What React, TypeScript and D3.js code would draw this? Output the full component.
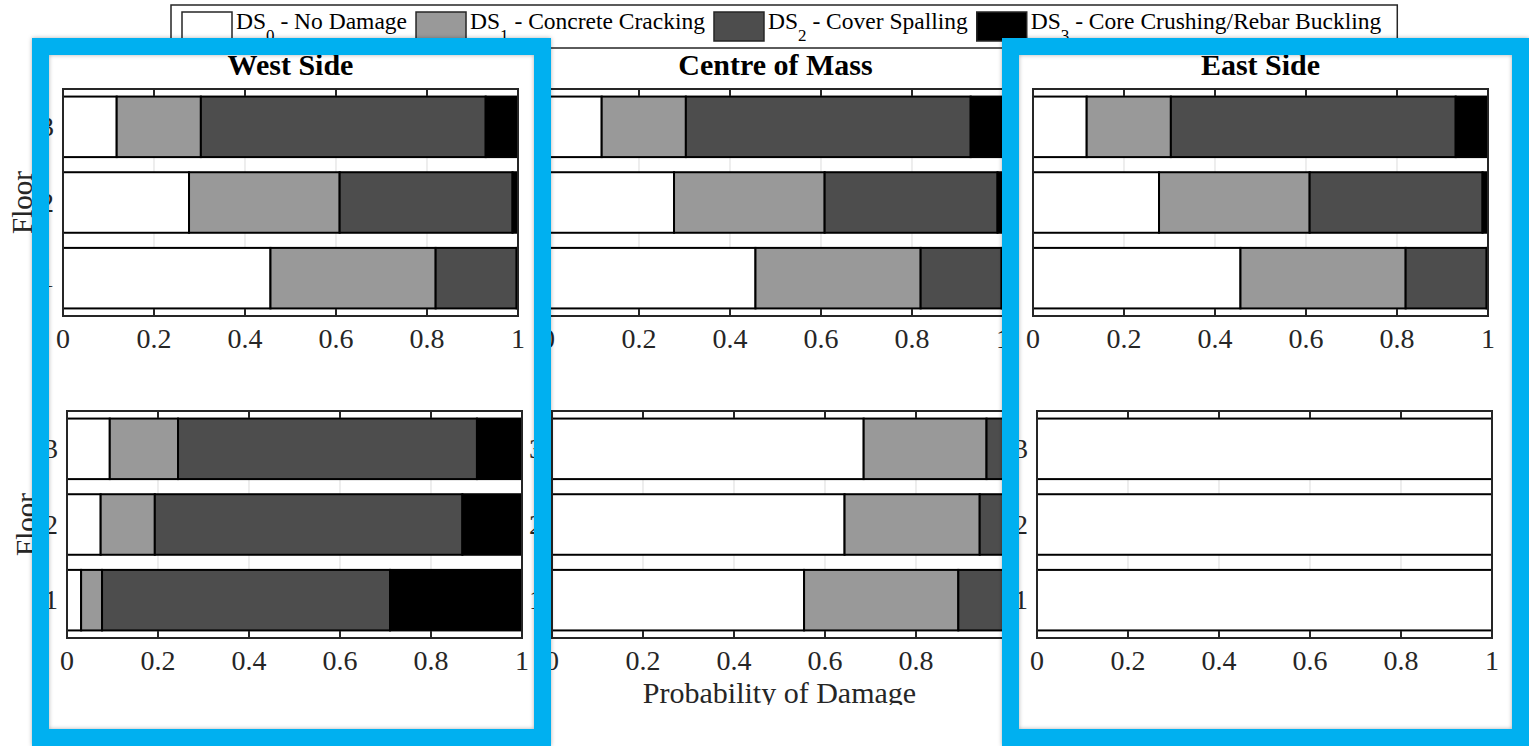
import React, { useEffect, useRef } from 'react';
import * as d3 from 'd3';

const W = 1529;
const H = 746;

const floors = [1, 2, 3];
const states = ['DS0', 'DS1', 'DS2', 'DS3'];
const stateSubs = ['0', '1', '2', '3'];
const stateNames = ['No Damage', 'Concrete Cracking', 'Cover Spalling', 'Core Crushing/Rebar Buckling'];
const stateColors = ['#ffffff', '#999999', '#4d4d4d', '#000000'];
const panelTitles = ['West Side', 'Centre of Mass', 'East Side'];
const xTicks = [0, 0.2, 0.4, 0.6, 0.8, 1];

// probability of each damage state, rows = floor 1, 2, 3 ; cols = DS0..DS3
const topWest = [
  [0.456, 0.363, 0.178, 0.003],
  [0.277, 0.331, 0.380, 0.012],
  [0.118, 0.185, 0.626, 0.071],
];
const topCentre = [
  [0.456, 0.363, 0.178, 0.003],
  [0.277, 0.331, 0.380, 0.012],
  [0.118, 0.185, 0.626, 0.071],
];
const topEast = [
  [0.456, 0.363, 0.178, 0.003],
  [0.277, 0.331, 0.380, 0.012],
  [0.118, 0.185, 0.626, 0.071],
];
const bottomWest = [
  [0.031, 0.046, 0.633, 0.290],
  [0.074, 0.119, 0.676, 0.131],
  [0.094, 0.150, 0.657, 0.099],
];
const bottomCentre = [
  [0.554, 0.339, 0.105, 0.002],
  [0.643, 0.297, 0.058, 0.002],
  [0.685, 0.270, 0.043, 0.002],
];
const bottomEast = [
  [1, 0, 0, 0],
  [1, 0, 0, 0],
  [1, 0, 0, 0],
];

const panels = [
  [topWest, topCentre, topEast],
  [bottomWest, bottomCentre, bottomEast],
];

// layout
const FONT = '"Liberation Serif", "Times New Roman", Times, serif';
const PW = 455;
const PH = 227;
const colLeft = [63, 548, 1033];
const rowTop = [89, 411];
const rowShift = [0, 4];
const BLUE = '#00b0f0';
const BW = 17;
const boxes = [
  { x0: 32, x1: 551 },
  { x0: 1002, x1: 1529 },
];

function drawPanel(root, data, left, top, opts) {
  const x = d3.scaleLinear().domain([0, 1]).range([left, left + PW]);
  const y = d3.scaleLinear().domain([0.5, 3.5]).range([top + PH, top]);
  const g = root.append('g');

  g.selectAll('line.grid')
    .data(xTicks.slice(1, -1))
    .join('line')
    .attr('x1', d => x(d)).attr('x2', d => x(d))
    .attr('y1', top).attr('y2', top + PH)
    .attr('stroke', '#e2e2e2').attr('stroke-width', 1.2);

  const rows = floors.map((f, i) => {
    const r: any = { floor: f };
    states.forEach((s, j) => { r[s] = data[i][j]; });
    return r;
  });
  const series = d3.stack().keys(states)(rows);

  g.selectAll('g.series')
    .data(series)
    .join('g')
    .attr('fill', (d, i) => stateColors[i])
    .selectAll('rect')
    .data(d => d)
    .join('rect')
    .attr('x', d => x(d[0]))
    .attr('width', d => x(d[1]) - x(d[0]))
    .attr('y', d => y(d.data.floor + 0.4))
    .attr('height', d => y(d.data.floor - 0.4) - y(d.data.floor + 0.4))
    .attr('stroke', '#000')
    .attr('stroke-width', 2);

  g.append('rect')
    .attr('x', left).attr('y', top).attr('width', PW).attr('height', PH)
    .attr('fill', 'none').attr('stroke', '#262626').attr('stroke-width', 2);

  g.selectAll('line.tickb')
    .data(xTicks)
    .join('line')
    .attr('x1', d => x(d)).attr('x2', d => x(d))
    .attr('y1', top + PH).attr('y2', top + PH - 7)
    .attr('stroke', '#262626').attr('stroke-width', 2);
  g.selectAll('line.tickt')
    .data(xTicks)
    .join('line')
    .attr('x1', d => x(d)).attr('x2', d => x(d))
    .attr('y1', top).attr('y2', top + 7)
    .attr('stroke', '#262626').attr('stroke-width', 2);

  g.selectAll('text.xt')
    .data(xTicks)
    .join('text')
    .attr('x', d => x(d))
    .attr('y', top + PH + 32)
    .attr('text-anchor', 'middle')
    .attr('font-family', FONT)
    .attr('font-size', 28)
    .attr('fill', '#262626')
    .text(d => String(d));

  if (opts.yLabels) {
    g.selectAll('text.yt')
      .data(floors)
      .join('text')
      .attr('x', left - 9)
      .attr('y', d => y(d) + 9)
      .attr('text-anchor', 'end')
      .attr('font-family', FONT)
      .attr('font-size', 28)
      .attr('fill', '#262626')
      .text(d => String(d));
  }

  if (opts.floorLabel) {
    const cy = top + PH / 2;
    g.append('text')
      .attr('transform', `translate(${left - 31},${cy}) rotate(-90)`)
      .attr('text-anchor', 'middle')
      .attr('font-family', FONT)
      .attr('font-size', 29)
      .attr('fill', '#262626')
      .text('Floor');
  }
  if (opts.title) {
    g.append('text')
      .attr('x', left + PW / 2)
      .attr('y', 75)
      .attr('text-anchor', 'middle')
      .attr('font-family', FONT)
      .attr('font-weight', 'bold')
      .attr('font-size', 30)
      .attr('fill', '#000')
      .text(opts.title);
  }
  if (opts.xLabel) {
    g.append('text')
      .attr('x', left + PW / 2)
      .attr('y', 703)
      .attr('text-anchor', 'middle')
      .attr('font-family', FONT)
      .attr('font-size', 30)
      .attr('fill', '#262626')
      .attr('clip-path', 'url(#figclip)')
      .text(opts.xLabel);
  }
}

function drawLegend(root) {
  const g = root.append('g');
  const frame = g.append('rect')
    .attr('x', 171).attr('y', 5).attr('height', 43)
    .attr('fill', '#fff').attr('stroke', '#262626').attr('stroke-width', 1.5);
  let cx = 182;
  let end = cx;
  states.forEach((s, i) => {
    g.append('rect')
      .attr('x', cx).attr('y', 12).attr('width', 50).attr('height', 29)
      .attr('fill', stateColors[i]).attr('stroke', '#262626').attr('stroke-width', 1.5);
    cx += 54;
    const t = g.append('text')
      .attr('x', cx).attr('y', 29)
      .attr('font-family', FONT)
      .attr('font-size', 23.5)
      .attr('fill', '#000');
    t.append('tspan').text('DS');
    t.append('tspan').attr('dy', 12).attr('font-size', 17).text(stateSubs[i]);
    t.append('tspan').attr('dy', -12).text(' - ' + stateNames[i]);
    const w = (t.node() as SVGTextElement).getComputedTextLength();
    end = cx + w;
    cx = end + 9;
  });
  frame.attr('width', end + 16 - 171);
}

export default function App() {
  const ref = useRef<SVGSVGElement>(null);
  useEffect(() => {
    document.body.style.margin = '0';
    document.body.style.overflow = 'hidden';
    const svg = d3.select(ref.current);
    svg.selectAll('*').remove();

    const defs = svg.append('defs');
    defs.append('clipPath').attr('id', 'figclip')
      .append('rect').attr('x', 0).attr('y', 0).attr('width', W).attr('height', 705);
    const f = defs.append('filter').attr('id', 'shadow')
      .attr('x', '-5%').attr('y', '-5%').attr('width', '110%').attr('height', '110%');
    f.append('feDropShadow').attr('dx', 0).attr('dy', 0).attr('stdDeviation', 2)
      .attr('flood-color', '#000').attr('flood-opacity', 0.3);

    svg.append('rect').attr('width', W).attr('height', H).attr('fill', '#fff');

    panels.forEach((row, r) => {
      row.forEach((data, c) => {
        drawPanel(svg, data, colLeft[c] + rowShift[r], rowTop[r], {
          floorLabel: c === 0,
          yLabels: r === 1 || c === 0,
          title: r === 0 ? panelTitles[c] : null,
          xLabel: r === 1 && c === 1 ? 'Probability of Damage' : null,
        });
      });
    });

    drawLegend(svg);

    svg.append('g')
      .selectAll('rect')
      .data(boxes)
      .join('rect')
      .attr('x', d => d.x0 + BW / 2)
      .attr('y', 38 + BW / 2)
      .attr('width', d => d.x1 - d.x0 - BW)
      .attr('height', H - 38 - BW)
      .attr('fill', 'none')
      .attr('stroke', BLUE)
      .attr('stroke-width', BW)
      .attr('filter', 'url(#shadow)');
  }, []);

  return <svg ref={ref} width={W} height={H} style={{ display: 'block' }} />;
}
